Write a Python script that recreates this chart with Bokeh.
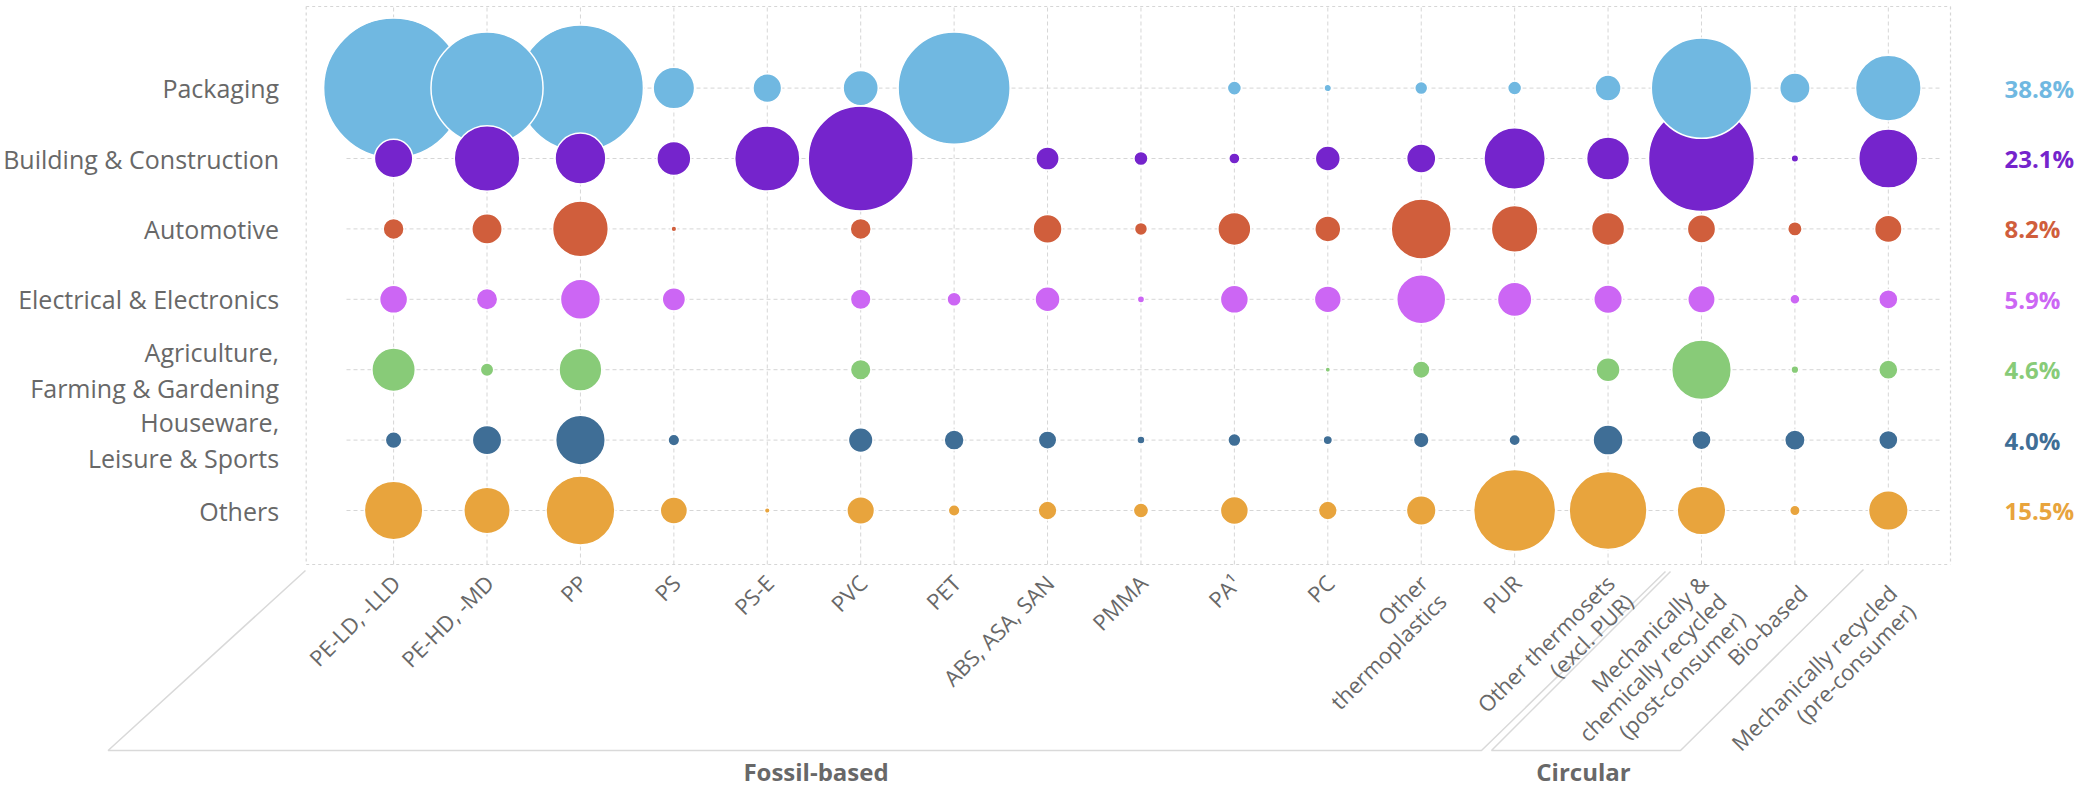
import numpy as np
from bokeh.plotting import figure
from bokeh.models import ColumnDataSource, Range1d
from bokeh.core.properties import value
from bokeh.embed import file_html
from bokeh.resources import INLINE

# ---------------- data ----------------
polymers = ["PE-LD, -LLD", "PE-HD, -MD", "PP", "PS", "PS-E", "PVC", "PET",
            "ABS, ASA, SAN", "PMMA", "PA\u00b9", "PC", "Other\nthermoplastics", "PUR",
            "Other thermosets\n(excl. PUR)",
            "Mechanically &\nchemically recycled\n(post-consumer)",
            "Bio-based", "Mechanically recycled\n(pre-consumer)"]
segments = ["Packaging", "Building & Construction", "Automotive",
            "Electrical & Electronics", "Agriculture,\nFarming & Gardening",
            "Houseware,\nLeisure & Sports", "Others"]
shares = ["38.8%", "23.1%", "8.2%", "5.9%", "4.6%", "4.0%", "15.5%"]
colors = ["#70b8e1", "#7524cc", "#d05e3c", "#cc66f4", "#88cb78", "#3f6e96", "#e8a43d"]

# estimated demand (kt) per polymer, one list per segment (0 = no bubble)
packaging   = [4900, 3140, 3970, 430, 205, 310, 3140, 0, 0, 50, 14, 42, 49, 169, 2520, 231, 1076]
building    = [369, 1076, 645, 289, 1063, 2756, 0, 135, 50, 31, 156, 213, 942, 462, 2809, 14, 876]
automotive  = [110, 231, 778, 8, 0, 110, 0, 210, 42, 272, 169, 900, 543, 272, 199, 52, 188]
electrical  = [196, 114, 400, 135, 0, 106, 50, 156, 13, 196, 180, 600, 296, 204, 188, 25, 92]
agriculture = [471, 45, 458, 0, 0, 106, 0, 0, 0, 0, 7, 76, 0, 144, 888, 15, 92]
houseware   = [69, 216, 615, 34, 0, 151, 100, 85, 16, 42, 22, 61, 32, 225, 92, 104, 92]
others      = [853, 538, 1183, 185, 8, 190, 34, 88, 58, 196, 88, 219, 1681, 1513, 590, 27, 392]
series = [packaging, building, automotive, electrical, agriculture, houseware, others]
groups = ["Fossil-based", "Circular"]

# ---------------- layout (pixels inside the figure) ----------------
W, H = 2080, 788
X0, DX = 393.1, 93.42    # pixel of first column, pixels per column
Y0, DY = 510.0, 70.4     # pixel of last row, pixels per row

def fx(px):
    return (px - X0) / DX

def fy(py):
    return (Y0 - py) / DY

n_cols = len(polymers)
n_rows = len(segments)
row_y = [n_rows - 1 - k for k in range(n_rows)]

p = figure(width=W, height=H, x_range=Range1d(fx(0), fx(W)), y_range=Range1d(fy(H), fy(0)),
           x_axis_location=None, y_axis_location=None, toolbar_location=None,
           output_backend="svg", min_border=0, outline_line_color=None,
           background_fill_color="white", border_fill_color="white")
p.grid.visible = False

GRID = "#d6d6d6"
LEFT, RIGHT, TOP, BOTTOM = 305.7, 1950.0, 6.0, 564.0

# vertical grid lines
p.segment(x0=list(range(n_cols)), x1=list(range(n_cols)),
          y0=[fy(BOTTOM)] * n_cols, y1=[fy(TOP)] * n_cols,
          line_color=GRID, line_width=1, line_dash="4 3")
# horizontal grid lines
p.segment(x0=[fx(346)] * n_rows, x1=[fx(1939)] * n_rows, y0=row_y, y1=row_y,
          line_color=GRID, line_width=1, line_dash="4 3")
# frame border
p.multi_line(xs=[[fx(LEFT), fx(RIGHT)], [fx(LEFT), fx(RIGHT)], [fx(LEFT), fx(LEFT)], [fx(RIGHT), fx(RIGHT)]],
             ys=[[fy(TOP), fy(TOP)], [fy(BOTTOM), fy(BOTTOM)], [fy(TOP), fy(BOTTOM)], [fy(TOP), fy(BOTTOM)]],
             line_color=GRID, line_width=1.2, line_dash="3 3")

# floor parallelograms
FLOOR = "#d9d9d9"
p.line([fx(305), fx(107.6), fx(1481), fx(1665)], [fy(570), fy(750), fy(750), fy(571)],
       line_color=FLOOR, line_width=1.5)
p.line([fx(1670), fx(1491), fx(1680), fx(1863)], [fy(571), fy(750), fy(750), fy(569)],
       line_color=FLOOR, line_width=1.5)

# ---------------- bubbles ----------------
bx, by, bs, bc = [], [], [], []
for k, vals in enumerate(series):
    for i, v in enumerate(vals):
        if v > 0:
            bx.append(i)
            by.append(row_y[k])
            bs.append(2 * np.sqrt(v))
            bc.append(colors[k])
order = np.argsort(bs)[::-1]
src = ColumnDataSource(dict(x=[bx[j] for j in order], y=[by[j] for j in order],
                            s=[bs[j] for j in order], c=[bc[j] for j in order]))
p.scatter("x", "y", size="s", source=src, marker="circle", fill_color="c",
          line_color="white", line_width=1.5)

# ---------------- texts ----------------
TXT = "#686868"
# segment labels (left)
p.text(x=[fx(278.6)] * n_rows, y=row_y, text=segments, text_align="right",
       text_baseline="middle", text_font=value("Open Sans"), text_font_size="25px",
       text_color=TXT, text_line_height=1.07)
# share labels (right)
p.text(x=[fx(2004)] * n_rows, y=row_y, text=shares, text_align="left",
       text_baseline="middle", text_font=value("Open Sans"), text_font_size="24px",
       text_font_style="bold", text_color=colors)
# polymer labels (rotated 45 deg, one text per line, right-aligned)
LS = 26.0
c45 = np.cos(np.pi / 4)
nudge = {15: (6, 10), 16: (2, 10)}   # px shift of the last two labels, as in the source
lx, ly, lt = [], [], []
for i, lab in enumerate(polymers):
    ndx, ndy = nudge.get(i, (0, 0))
    for j, line in enumerate(lab.split("\n")):
        lx.append(i + (-8.5 + ndx + j * LS * c45) / DX)
        ly.append(fy(BOTTOM + 3.5 + ndy + j * LS * c45))
        lt.append(line)
p.text(x=lx, y=ly, text=lt, angle=np.pi / 4, text_align="right", text_baseline="top",
       text_font=value("Open Sans"), text_font_size="22px", text_color=TXT)
# group titles
p.text(x=[fx(815.5), fx(1583)], y=[fy(771)] * 2, text=groups, text_align="center",
       text_baseline="middle", text_font=value("Open Sans"), text_font_size="24px",
       text_font_style="bold", text_color=TXT)

open("out.html", "w").write(file_html(p, INLINE))
